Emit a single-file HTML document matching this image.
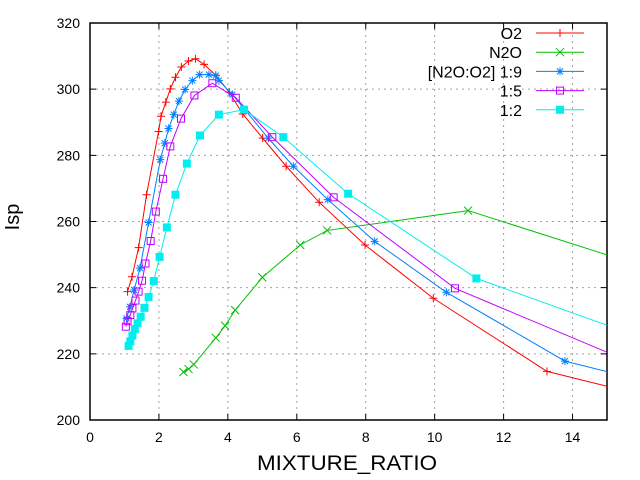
<!DOCTYPE html>
<html><head><meta charset="utf-8"><style>
body{margin:0;background:#fff;}
svg{display:block;font-family:"Liberation Sans",sans-serif;}
</style></head><body>
<svg id="chart" width="640" height="480" viewBox="0 0 640 480">
<defs><clipPath id="clip"><rect x="90" y="23" width="517" height="397"/></clipPath></defs>
<g id="grid"></g>
<g id="axes"></g>
<g id="series" clip-path="url(#clip)"></g>
<g id="legend"></g>
<text x="347" y="470" font-size="21" text-anchor="middle" textLength="180" lengthAdjust="spacingAndGlyphs">MIXTURE_RATIO</text>
<text transform="translate(19,217) rotate(-90)" font-size="20" text-anchor="middle">Isp</text>
</svg>
<script>
const xTicks=[0,2,4,6,8,10,12,14];
const yTicks=[200,220,240,260,280,300,320];
const seriesNames=["O2","N2O","[N2O:O2] 1:9","1:5","1:2"];
const o2X=[1.09,1.22,1.41,1.64,1.99,2.06,2.20,2.33,2.48,2.65,2.86,3.06,3.31,3.65,4.04,4.43,5.01,5.69,6.65,7.98,9.96,13.26,16];
const o2Y=[238.8,243.3,252.1,268.1,287.2,291.8,296.1,300.1,303.6,306.7,308.5,309.2,307.5,304.2,299.1,292.5,285.2,276.7,265.8,252.9,236.8,214.7,207.6];
const n2oX=[2.71,2.86,3.01,3.65,3.92,4.21,5.0,6.10,6.88,10.97,16];
const n2oY=[214.5,215.4,216.8,224.8,228.5,233.2,243.1,252.9,257.3,263.3,246.6];
const m19X=[1.06,1.16,1.28,1.45,1.70,2.04,2.17,2.28,2.43,2.58,2.76,2.97,3.18,3.45,3.65,3.74,4.13,5.17,5.90,6.90,8.26,10.34,13.78,16];
const m19Y=[230.7,234.2,239.3,245.9,259.7,278.7,283.7,288.1,292.3,296.4,299.9,302.6,304.4,304.4,304.1,302.6,298.4,285.2,276.7,266.6,254.0,238.6,217.8,212.0];
const m15X=[1.04,1.09,1.17,1.23,1.32,1.41,1.51,1.61,1.76,1.91,2.12,2.33,2.64,3.03,3.55,4.23,5.29,7.07,10.59,16];
const m15Y=[228.2,229.9,231.7,233.7,236.1,238.8,242.1,247.3,254.1,263.0,272.9,282.7,291.1,298.1,301.8,297.4,285.5,267.3,239.8,216.1];
const m12X=[1.12,1.17,1.23,1.30,1.38,1.47,1.58,1.70,1.85,2.02,2.23,2.48,2.81,3.19,3.74,4.47,5.61,7.49,11.21,16];
const m12Y=[222.4,223.8,225.5,227.5,229.2,231.2,233.9,237.2,242.0,249.3,258.2,268.1,277.5,286.0,292.3,293.8,285.5,268.4,242.8,224.9];

const L=90,R=607,T=23,B=420;
const sx=v=>L+(v-0)/15*(R-L);
const sy=v=>B-(v-200)/120*(B-T);
const NS="http://www.w3.org/2000/svg";
function mk(tag,attrs,parent){const e=document.createElementNS(NS,tag);for(const k in attrs)e.setAttribute(k,attrs[k]);parent.appendChild(e);return e;}
const grid=document.getElementById('grid'),axes=document.getElementById('axes'),ser=document.getElementById('series'),leg=document.getElementById('legend');

xTicks.forEach(t=>{const x=sx(t);
 if(t>0){const g=mk('line',{x1:x,y1:T,x2:x,y2:B,stroke:'#a0a0a0','stroke-dasharray':'2,4'},grid);}
 const tk=mk('path',{d:`M${x},${B}v-6M${x},${T}v6`,stroke:'#000'},axes);
 const lb=mk('text',{x:x,y:442,'font-size':14,'text-anchor':'middle'},axes);lb.textContent=t;
});
yTicks.forEach(t=>{const y=sy(t);
 if(t>200&&t<320){const g=mk('line',{x1:L,y1:y,x2:R,y2:y,stroke:'#a0a0a0','stroke-dasharray':'2,4'},grid);}
 const tk=mk('path',{d:`M${L},${y}h6M${R},${y}h-6`,stroke:'#000'},axes);
 const lb=mk('text',{x:80,y:y+5,'font-size':14,'text-anchor':'end'},axes);lb.textContent=t;
});
const fr=mk('rect',{x:L,y:T,width:R-L,height:B-T,fill:'none',stroke:'#000','stroke-width':1.5},axes);


function marker(type,x,y,c,parent){
 let e;
 if(type==='plus')e=mk('path',{d:`M${x-4},${y}h8M${x},${y-4}v8`,stroke:c,fill:'none'},parent);
 else if(type==='cross')e=mk('path',{d:`M${x-4},${y-4}l8,8M${x-4},${y+4}l8,-8`,stroke:c,fill:'none'},parent);
 else if(type==='star')e=mk('path',{d:`M${x-4},${y}h8M${x},${y-4}v8M${x-3},${y-3}l6,6M${x-3},${y+3}l6,-6`,stroke:c,fill:'none'},parent);
 else if(type==='box')e=mk('rect',{x:x-3.5,y:y-3.5,width:7,height:7,stroke:c,fill:'none'},parent);
 else e=mk('rect',{x:x-4,y:y-4,width:8,height:8,fill:c},parent);
 return e;
}
const defs=[[o2X,o2Y,'#ff0000','plus'],[n2oX,n2oY,'#00c000','cross'],[m19X,m19Y,'#0080ff','star'],[m15X,m15Y,'#c000ff','box'],[m12X,m12Y,'#00eeee','fill']];
defs.forEach((d,i)=>{
 const [xs,ys,c,m]=d;
 const g=mk('g',{},ser);
 const p=mk('polyline',{points:xs.map((v,j)=>sx(v)+','+sy(ys[j])).join(' '),fill:'none',stroke:c},g);
 
 xs.forEach((v,j)=>{const e=marker(m,sx(v),sy(ys[j]),c,g);});
 const ly=33+i*19.2;
 const lg=mk('g',{},leg);
 const t=mk('text',{x:522,y:ly+6,'font-size':16,'text-anchor':'end'},lg);t.textContent=seriesNames[i];
 mk('line',{x1:536,y1:ly,x2:584,y2:ly,stroke:c},lg);
 marker(m,560,ly,c,lg);
});
</script>
</body></html>
